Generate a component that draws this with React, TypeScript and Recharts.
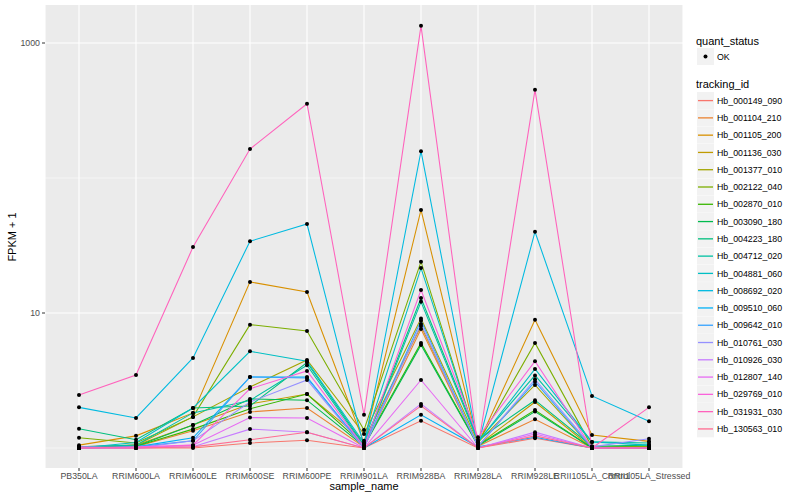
import React from 'react';
import { LineChart, Line, XAxis, YAxis, CartesianGrid } from 'recharts';

const samples = [
  'PB350LA', 'RRIM600LA', 'RRIM600LE', 'RRIM600SE', 'RRIM600PE', 'RRIM901LA',
  'RRIM928BA', 'RRIM928LA', 'RRIM928LE', 'RRII105LA_Control', 'RRII105LA_Stressed',
];

const trackingIds = [
  'Hb_000149_090', 'Hb_001104_210', 'Hb_001105_200', 'Hb_001136_030', 'Hb_001377_010',
  'Hb_002122_040', 'Hb_002870_010', 'Hb_003090_180', 'Hb_004223_180', 'Hb_004712_020',
  'Hb_004881_060', 'Hb_008692_020', 'Hb_009510_060', 'Hb_009642_010', 'Hb_010761_030',
  'Hb_010926_030', 'Hb_012807_140', 'Hb_029769_010', 'Hb_031931_030', 'Hb_130563_010',
];

// ggplot hue palette, 20 levels
const lineColors = [
  '#F8766D', '#EA8331', '#D89000', '#C09B00', '#A3A500', '#7CAE00', '#39B600', '#00BB4E',
  '#00BF7D', '#00C1A3', '#00BFC4', '#00BAE0', '#00B0F6', '#35A2FF', '#9590FF', '#C77CFF',
  '#E76BF3', '#FA62DB', '#FF62BC', '#FF6C91',
];

// FPKM + 1, one value per sample
const hb000149_090 = [1.0, 1.0, 1.0, 1.09, 1.14, 1.0, 1.59, 1.0, 1.18, 1.0, 1.0];
const hb001104_210 = [1.0, 1.02, 1.34, 1.85, 1.98, 1.02, 7.6, 1.03, 1.63, 1.0, 1.0];
const hb001105_200 = [1.05, 1.23, 1.82, 17.0, 14.3, 1.09, 58.0, 1.07, 8.9, 1.25, 1.12];
const hb001136_030 = [1.02, 1.05, 1.48, 2.12, 2.51, 1.13, 8.0, 1.05, 2.19, 1.0, 1.03];
const hb001377_010 = [1.0, 1.05, 1.7, 2.83, 4.49, 1.27, 9.1, 1.1, 2.93, 1.0, 1.0];
const hb002122_040 = [1.19, 1.09, 1.7, 8.2, 7.37, 1.36, 24.0, 1.09, 6.0, 1.02, 1.03];
const hb002870_010 = [1.0, 1.03, 1.38, 1.95, 2.51, 1.05, 6.0, 1.05, 1.91, 1.0, 1.0];
const hb003090_180 = [1.0, 1.03, 1.48, 2.31, 2.26, 1.03, 5.8, 1.04, 1.86, 1.0, 1.0];
const hb004223_180 = [1.39, 1.15, 1.98, 2.05, 4.3, 1.05, 12.9, 1.15, 2.26, 1.03, 1.05];
const hb004712_020 = [1.02, 1.05, 1.82, 2.25, 4.1, 1.03, 12.1, 1.12, 3.45, 1.11, 1.09];
const hb004881_060 = [1.0, 1.1, 1.98, 5.2, 4.4, 1.09, 21.5, 1.1, 3.85, 1.11, 1.05];
const hb008692_020 = [2.0, 1.67, 4.65, 34.0, 45.6, 1.03, 158.0, 1.05, 40.0, 2.43, 1.58];
const hb009510_060 = [1.0, 1.02, 1.19, 3.36, 3.36, 1.0, 1.76, 1.02, 1.2, 1.0, 1.0];
const hb009642_010 = [1.0, 1.02, 1.13, 3.36, 3.3, 1.02, 8.8, 1.03, 3.1, 1.0, 1.0];
const hb010761_030 = [1.0, 1.0, 1.13, 2.19, 3.19, 1.0, 8.3, 1.02, 3.23, 1.02, 1.17];
const hb010926_030 = [1.0, 1.0, 1.02, 1.38, 1.31, 1.0, 2.12, 1.0, 1.31, 1.0, 1.0];
const hb012807_140 = [1.02, 1.0, 1.05, 1.68, 1.67, 1.0, 3.19, 1.0, 1.27, 1.0, 1.0];
const hb029769_010 = [1.0, 1.02, 1.05, 2.75, 3.72, 1.02, 14.8, 1.2, 4.4, 1.0, 1.0];
const hb031931_030 = [2.47, 3.47, 30.8, 164.0, 355.0, 1.76, 1340.0, 1.0, 450.0, 1.0, 2.0];
const hb130563_010 = [1.0, 1.0, 1.02, 1.15, 1.31, 1.0, 2.05, 1.0, 1.23, 1.0, 1.0];

const seriesValues = [
  hb000149_090, hb001104_210, hb001105_200, hb001136_030, hb001377_010,
  hb002122_040, hb002870_010, hb003090_180, hb004223_180, hb004712_020,
  hb004881_060, hb008692_020, hb009510_060, hb009642_010, hb010761_030,
  hb010926_030, hb012807_140, hb029769_010, hb031931_030, hb130563_010,
];

const majorTicks = [10, 1000];
const minorTicks = [1, 100];

const rows = samples.map((sample, i) => {
  const row: Record<string, string | number> = { sample };
  trackingIds.forEach((id, k) => {
    row[id] = seriesValues[k][i];
  });
  return row;
});

const FONT = '"Liberation Sans", Arial, Helvetica, sans-serif';

// legend drawn as plain svg, to the right of the panel
const Legend = () => (
  <svg width={104} height={440} style={{ position: 'absolute', left: 696, top: 0, fontFamily: FONT }}>
    <text x={0} y={45} fontSize={11} fill="#000">quant_status</text>
    <rect x={1} y={48} width={17} height={17} fill="#F2F2F2" />
    <circle cx={9.5} cy={56.5} r={2} fill="#000" />
    <text x={21} y={59.5} fontSize={8.8} fill="#000">OK</text>
    <text x={0} y={88} fontSize={11} fill="#000">tracking_id</text>
    {trackingIds.map((id, k) => {
      const y = 92 + k * 17.28;
      return (
        <g key={id}>
          <rect x={1} y={y} width={17} height={17} fill="#F2F2F2" />
          <line x1={2} x2={17} y1={y + 8.6} y2={y + 8.6} stroke={lineColors[k]} strokeWidth={1.3} />
          <text x={21} y={y + 11.7} fontSize={8.8} fill="#000">{id}</text>
        </g>
      );
    })}
  </svg>
);

export default function App() {
  return (
    <div style={{ position: 'absolute', left: 0, top: 0, width: 800, height: 500, background: '#fff', fontFamily: FONT }}>
      <LineChart width={800} height={500} data={rows} margin={{ top: 5, right: 117, bottom: 10, left: 8 }}>
        <CartesianGrid fill="#EBEBEB" stroke="#FFFFFF" strokeWidth={0.55} vertical={false} horizontalValues={minorTicks} />
        <CartesianGrid stroke="#FFFFFF" strokeWidth={1.1} horizontalValues={majorTicks} />
        <XAxis
          dataKey="sample"
          interval={0}
          padding={{ left: 34, right: 34 }}
          height={22}
          tickSize={3}
          tickMargin={2}
          axisLine={false}
          tickLine={{ stroke: '#333333' }}
          tick={{ fontSize: 8.8, fill: '#4D4D4D', fontFamily: FONT }}
        />
        <YAxis
          scale="log"
          domain={[0.711, 1912]}
          allowDataOverflow
          ticks={majorTicks}
          width={37}
          tickSize={3}
          tickMargin={2}
          axisLine={false}
          tickLine={{ stroke: '#333333' }}
          tick={{ fontSize: 8.8, fill: '#4D4D4D', fontFamily: FONT }}
        />
        {trackingIds.map((id, k) => (
          <Line
            key={id}
            dataKey={id}
            stroke={lineColors[k]}
            strokeWidth={1.07}
            dot={false}
            activeDot={false}
            isAnimationActive={false}
          />
        ))}
        {trackingIds.map((id) => (
          <Line
            key={`pt-${id}`}
            dataKey={id}
            stroke="none"
            dot={{ r: 2, fill: '#000', stroke: 'none' }}
            activeDot={false}
            isAnimationActive={false}
          />
        ))}
      </LineChart>
      <div style={{ position: 'absolute', left: 364, top: 480, transform: 'translateX(-50%)', fontSize: 11, whiteSpace: 'nowrap' }}>
        sample_name
      </div>
      <div style={{ position: 'absolute', left: 12, top: 237, transform: 'translate(-50%, -50%) rotate(-90deg)', fontSize: 11, whiteSpace: 'nowrap' }}>
        FPKM + 1
      </div>
      <Legend />
    </div>
  );
}
